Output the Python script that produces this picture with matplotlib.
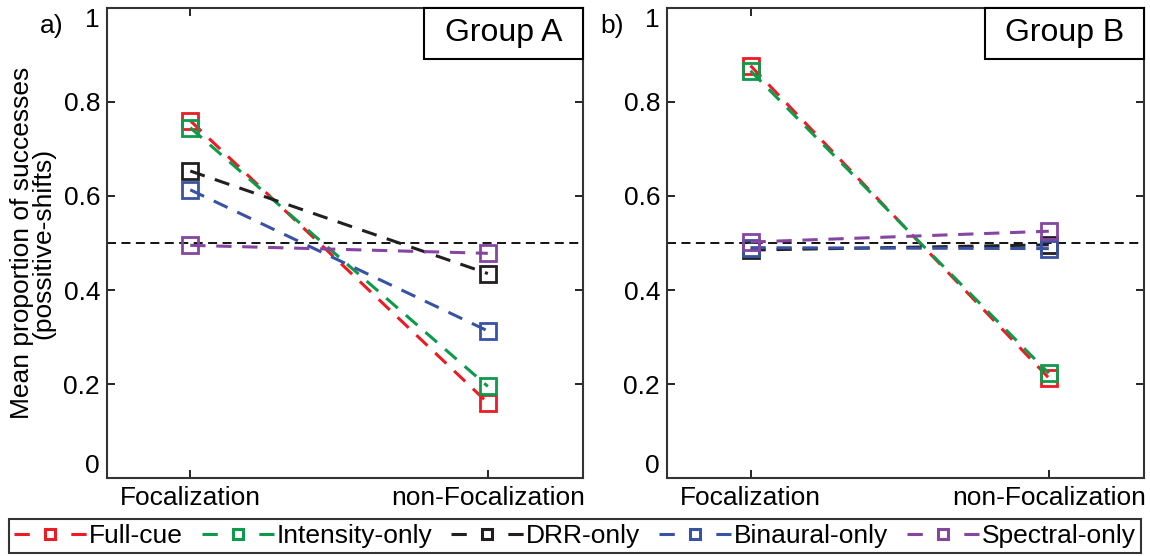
import matplotlib.pyplot as plt
from matplotlib.lines import Line2D
from matplotlib.patches import Rectangle

plt.rcParams['font.family'] = ['Liberation Sans', 'DejaVu Sans']

conditions = ['Focalization', 'non-Focalization']
series = ['Full-cue', 'Intensity-only', 'DRR-only', 'Binaural-only', 'Spectral-only']
colors = ['#ed1c24', '#0d9a4a', '#231f20', '#3953a4', '#8446a0']

group_a = [
    [0.760, 0.160],
    [0.745, 0.195],
    [0.653, 0.435],
    [0.613, 0.313],
    [0.495, 0.478],
]
group_b = [
    [0.877, 0.213],
    [0.866, 0.223],
    [0.485, 0.496],
    [0.490, 0.488],
    [0.502, 0.525],
]

fig = plt.figure(figsize=(11.5, 5.56), dpi=100)
ax_a = fig.add_axes([0.093, 0.140, 0.414, 0.846])
ax_b = fig.add_axes([0.580, 0.140, 0.415, 0.846])

x = [1, 2]
for ax, data, label, tag in [(ax_a, group_a, 'Group A', 'a)'), (ax_b, group_b, 'Group B', 'b)')]:
    ax.axhline(0.5, color='black', ls=(0, (5, 3)), lw=1.3, zorder=1)
    for vals, c, name in zip(data, colors, series):
        ax.plot(x, vals, ls=(0, (5, 3.5)), color=c, lw=2.2, marker='s', ms=11,
                mfc='none', mec=c, mew=2)
    ax.set_xlim(0.72, 2.32)
    ax.set_ylim(0, 1)
    ax.set_xticks(x)
    ax.set_xticklabels(conditions)
    ax.set_yticks([0, 0.2, 0.4, 0.6, 0.8, 1])
    ax.set_yticklabels(['0', '0.2', '0.4', '0.6', '0.8', '1'])
    ax.tick_params(direction='in', length=6, width=1.2, labelsize=19, right=True, top=True, pad=5)
    ax.tick_params(axis='x', pad=6)
    yl = ax.get_yticklabels()
    yl[0].set_va('bottom')
    yl[-1].set_va('top')
    for s in ax.spines.values():
        s.set_linewidth(1.5)
        s.set_color('#333333')
    ax.add_patch(Rectangle((0.666, 0.8915), 0.334, 0.1085, transform=ax.transAxes,
                           fc='white', ec='black', lw=1.5, zorder=5, clip_on=False))
    ax.text(0.833, 0.946, label, transform=ax.transAxes, ha='center', va='center',
            fontsize=23, zorder=6)
    fig.text(ax.get_position().x0 - 0.058, 0.975, tag, fontsize=19, va='top')

ax_a.set_ylabel('Mean proportion of successes\n(possitive-shifts)', fontsize=19, labelpad=6,
                linespacing=0.85)

# legend handles: dash - square - dash
handles = [Line2D([], [], color=c, lw=2.2, ls=(0, (5, 13.6)), marker='s', ms=7,
                  mfc='none', mec=c, mew=2.2) for c in colors]
leg = fig.legend(handles, series, loc='lower center', bbox_to_anchor=(0.500, 0.0), ncol=5,
                 fontsize=19, frameon=True, fancybox=False, edgecolor='black',
                 handlelength=2.75, handletextpad=0.1, columnspacing=0.7,
                 borderpad=0.2, borderaxespad=0.1)
leg.get_frame().set_linewidth(1.5)

fig.savefig('out.png', dpi=100)
